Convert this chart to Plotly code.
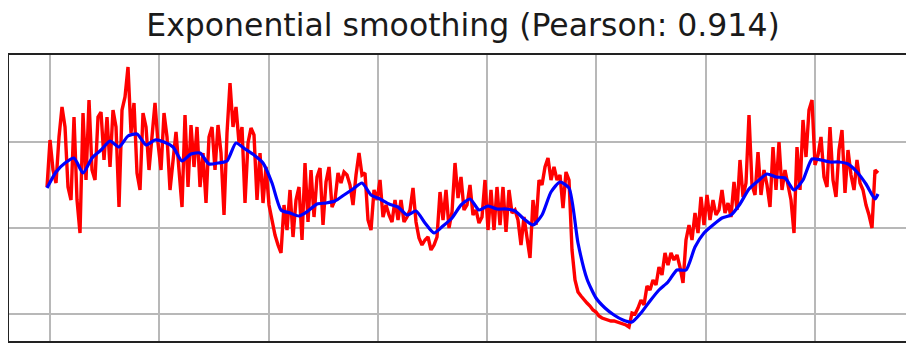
import plotly.graph_objects as go

# Raw (noisy) series, one value per sample
red_values = [
    127, 174, 144, 131, 177, 207, 187, 127, 114, 197, 114, 81, 201, 134, 214, 144, 134, 197, 202, 154,
    197, 147, 204, 187, 107, 204, 217, 247, 181, 211, 141, 124, 201, 187, 144, 181, 211, 171, 144, 201,
    177, 124, 154, 182, 144, 107, 199, 127, 189, 147, 187, 127, 161, 111, 177, 187, 144, 189, 161, 99,
    181, 231, 187, 207, 171, 187, 111, 171, 186,
    179, 114, 161, 111, 147, 109, 94, 79, 69, 61, 109, 84, 124, 77, 114, 127, 74, 151, 92, 144,
    97, 137, 146, 89, 132, 147, 107, 114, 141, 131, 142, 139, 129, 109, 139, 161, 139, 141, 94, 84,
    124, 114, 134, 97, 109, 99, 92, 114, 94, 114, 92, 97, 104, 126, 92, 76, 69, 74, 77, 64,
    69, 77, 122, 94, 124, 86, 102, 151, 116, 137, 104,
    109, 129, 99, 104, 91, 97, 134, 84, 124, 84, 127, 89, 127, 82, 124, 101, 104, 94, 69, 97,
    74, 56, 114, 89, 134, 129, 147, 156, 134, 147, 134, 139, 106, 142, 134, 64, 34, 22, 18, 14,
    11, 8, 4, 2, -2, -4, -5, -6, -7, -7, -8, -9, -10, -11, -13, 1, 0, 6, 14, 9,
    28, 24, 34, 29, 47, 39, 61, 49, 61, 54,
    59, 47, 31, 74, 89, 74, 101, 81, 117, 89, 119, 94, 114, 99, 104, 124, 101, 111, 97, 132,
    104, 154, 117, 131, 199, 129, 119, 162, 119, 144, 129, 107, 167, 124, 172, 124, 144, 129, 114, 81,
    167, 124, 194, 157, 204, 214, 149, 159, 177, 137, 127, 187, 134, 117, 164, 184, 121, 164, 139, 124,
    154, 131, 124, 109, 99, 86, 144, 141,
]

# Exponentially smoothed series, read every third sample (plus the last one)
smooth_values = [
    126, 142, 151, 156, 141, 156, 164, 173, 167, 178, 180, 169, 174, 172, 167, 153, 160, 161, 150, 151,
    153, 171, 165, 159, 151, 131, 104, 101, 98, 103, 110, 111, 113, 119, 125, 131, 119, 115, 110, 107,
    99, 103, 91, 81, 88, 96, 109, 115, 104, 108, 105, 105, 103, 95, 89, 99, 122, 132, 126, 71,
    35, 16, 6, -1, -6, -8, 1, 13, 24, 32, 44, 44, 67, 81, 89, 96, 99, 110, 125, 133,
    140, 137, 136, 124, 134, 155, 154, 152, 152, 150, 142, 130, 115, 120,
]

red_x = list(range(len(red_values)))
smooth_x = list(range(0, len(red_values), 3)) + [len(red_values) - 1]

# Grid positions (in sample units) and value grid lines
x_grid_start = 1
x_grid_step = 36.43
y_grid = [0, 86, 172]

fig = go.Figure()
fig.add_trace(go.Scatter(x=red_x, y=red_values, mode="lines",
                         line=dict(color="#ff0000", width=3.4), hoverinfo="skip"))
fig.add_trace(go.Scatter(x=smooth_x, y=smooth_values, mode="lines",
                         line=dict(color="#0000ff", width=3.2, shape="spline", smoothing=0.6),
                         hoverinfo="skip"))

# The page body adds an 8px offset, so the figure is 8px smaller than the window
fig.update_layout(
    width=906, height=335,
    margin=dict(l=1, r=0, t=47, b=2),
    paper_bgcolor="white", plot_bgcolor="white",
    showlegend=False,
    title=dict(text="Exponential smoothing (Pearson: 0.914)",
               font=dict(family="DejaVu Sans", size=31.5, color="#1a1a1a"),
               x=455 / 906, xref="container", xanchor="center",
               y=1 - 17 / 335, yref="container", yanchor="middle"),
)
fig.update_xaxes(range=[-12.67, 289], tick0=x_grid_start, dtick=x_grid_step,
                 showgrid=True, gridcolor="#b8b8b8", gridwidth=1.8,
                 showticklabels=False, ticks="", zeroline=False,
                 showline=True, linecolor="#222222", linewidth=2, mirror=True)
fig.update_yaxes(range=[-27, 259], tickmode="array", tickvals=y_grid,
                 showgrid=True, gridcolor="#b8b8b8", gridwidth=1.8,
                 showticklabels=False, ticks="", zeroline=False,
                 showline=True, linecolor="#222222", linewidth=2, mirror=False)

fig.write_html("out.html", config={"displayModeBar": False})
